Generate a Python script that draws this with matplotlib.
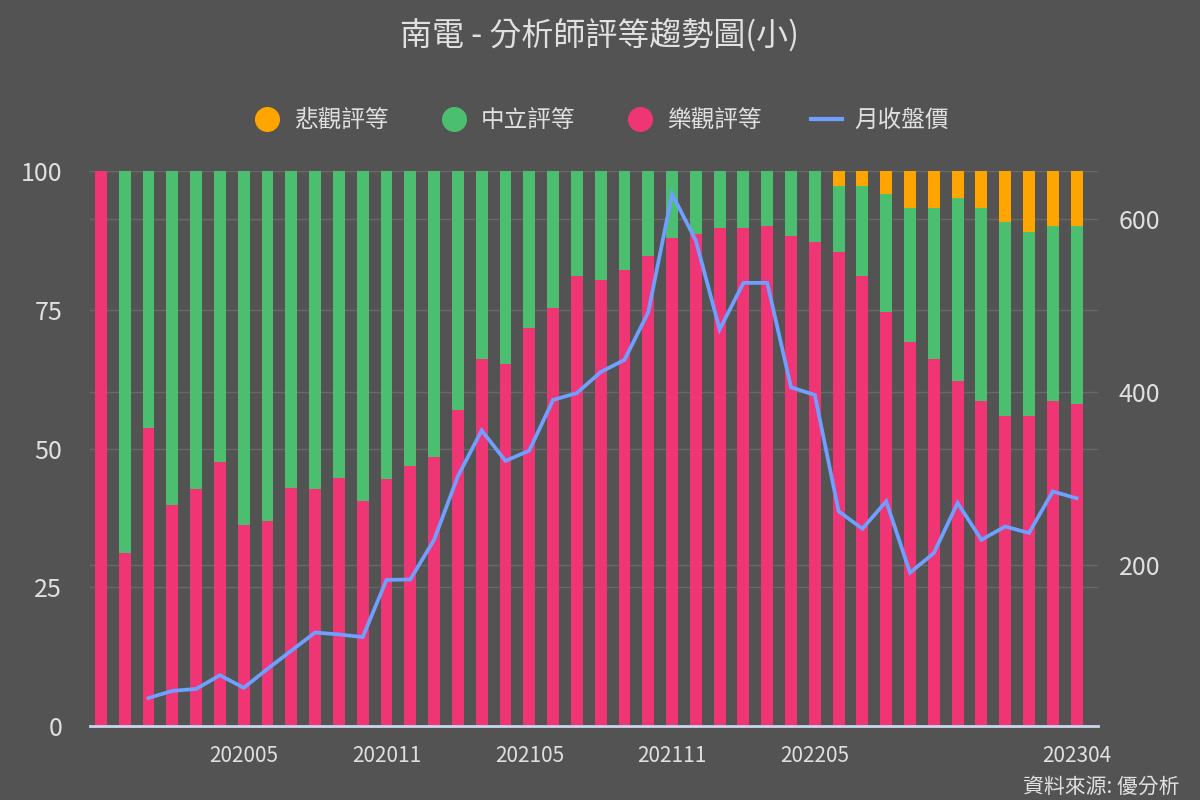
import numpy as np
import matplotlib
matplotlib.use('Agg')
import matplotlib.pyplot as plt
from matplotlib.lines import Line2D

plt.rcParams['font.family'] = ['Noto Sans CJK TC', 'DejaVu Sans']

# monthly data, 201911 .. 202304
months = ['2019%02d' % m for m in (11, 12)] + \
         ['2020%02d' % m for m in range(1, 13)] + \
         ['2021%02d' % m for m in range(1, 13)] + \
         ['2022%02d' % m for m in range(1, 13)] + \
         ['2023%02d' % m for m in range(1, 5)]

optimistic = [100, 31.1, 53.8, 39.8, 42.7, 47.6, 36.2, 36.9, 42.9, 42.7,
              44.7, 40.5, 44.5, 46.9, 48.5, 57.0, 66.1, 65.2, 71.7, 75.4,
              81.1, 80.4, 82.2, 84.8, 88.0, 88.6, 89.7, 89.7, 90.2, 88.4,
              87.3, 85.5, 81.1, 74.6, 69.2, 66.1, 62.1, 58.5, 55.9, 55.9,
              58.5, 58.1]
pessimistic = [0] * 31 + [2.7, 2.7, 4.1, 6.7, 6.7, 4.9, 6.7, 9.2, 10.9, 9.8, 9.8]
neutral = [100 - o - p for o, p in zip(optimistic, pessimistic)]

price = [np.nan, np.nan, 46.3, 54.6, 56.8, 72.7, 58.1, 80.0, 101.0, 122.0,
         119.8, 116.7, 182.8, 183.3, 229.1, 302.6, 355.5, 320.3, 332.2, 390.7,
         398.7, 422.9, 437.0, 492.0, 628.6, 574.9, 472.2, 526.0, 526.0, 405.3,
         396.5, 262.1, 241.9, 273.6, 191.2, 213.7, 271.8, 229.1, 244.5, 237.0,
         285.0, 277.1]

tick_labels = ['202005', '202011', '202105', '202111', '202205', '202304']

BG = '#535353'
TXT = '#e0e0e0'
GRID = '#686868'
C_PES = '#ffa500'
C_NEU = '#4bbf6f'
C_OPT = '#f03574'
C_LINE = '#6f9fff'
PRICE_LIM = (14, 655)

fig = plt.figure(figsize=(12, 8), dpi=100, facecolor=BG)
rect = [0.075, 0.0925, 0.84, 0.6935]

# right axis (price scale) sits at the back, only for its grid and labels
ax2 = fig.add_axes(rect, facecolor=BG)
ax2.yaxis.tick_right()
ax2.set_ylim(*PRICE_LIM)
ax2.set_yticks([200, 400, 600])
ax2.set_xticks([])
ax2.yaxis.grid(True, color=GRID, lw=1)
ax2.tick_params(axis='y', length=0, colors=TXT, labelsize=18, pad=15)
for s in ax2.spines.values():
    s.set_visible(False)

# bars
ax = fig.add_axes(rect, facecolor='none')
x = np.arange(len(months))
ax.bar(x, optimistic, width=0.5, color=C_OPT, zorder=2)
ax.bar(x, neutral, width=0.5, bottom=optimistic, color=C_NEU, zorder=2)
ax.bar(x, pessimistic, width=0.5,
       bottom=[o + n for o, n in zip(optimistic, neutral)], color=C_PES, zorder=2)
ax.set_xlim(-0.46, 41.9)
ax2.set_xlim(-0.46, 41.9)
ax.set_ylim(0, 100)
ax.set_yticks([0, 25, 50, 75, 100])
ax.yaxis.grid(True, color=GRID, lw=1, zorder=0)
ax.set_axisbelow(True)
ax.set_xticks([months.index(t) for t in tick_labels])
ax.set_xticklabels(tick_labels)
ax.tick_params(axis='x', length=0, colors=TXT, labelsize=15, pad=14)
ax.tick_params(axis='y', length=0, colors=TXT, labelsize=18, pad=20)
for s in ['top', 'left', 'right']:
    ax.spines[s].set_visible(False)
ax.spines['bottom'].set_color('#ccd6eb')
ax.spines['bottom'].set_linewidth(2)
ax.spines['bottom'].set_zorder(4)

# price line on top
lax = fig.add_axes(rect, facecolor='none', frameon=False)
lax.plot(x, price, color=C_LINE, lw=2.7, solid_joinstyle='miter')
lax.set_xlim(-0.46, 41.9)
lax.set_ylim(*PRICE_LIM)
lax.axis('off')

fig.text(0.5, 0.955, '南電 - 分析師評等趨勢圖(小)', ha='center', va='center',
         color=TXT, fontsize=23)

handles = [
    Line2D([], [], marker='o', ls='none', color=C_PES, markersize=17),
    Line2D([], [], marker='o', ls='none', color=C_NEU, markersize=17),
    Line2D([], [], marker='o', ls='none', color=C_OPT, markersize=17),
    Line2D([], [], color=C_LINE, lw=3),
]
labels = ['悲觀評等', '中立評等', '樂觀評等', '月收盤價']
fig.legend(handles, labels, loc='center', bbox_to_anchor=(0.5, 0.849),
           ncol=4, frameon=False, fontsize=17, labelcolor=TXT,
           handlelength=1.3, handletextpad=0.5, columnspacing=2.1)

fig.text(0.983, 0.016, '資料來源: 優分析', ha='right', va='center',
         color=TXT, fontsize=15)

fig.savefig('out.png', dpi=100, facecolor=BG)
